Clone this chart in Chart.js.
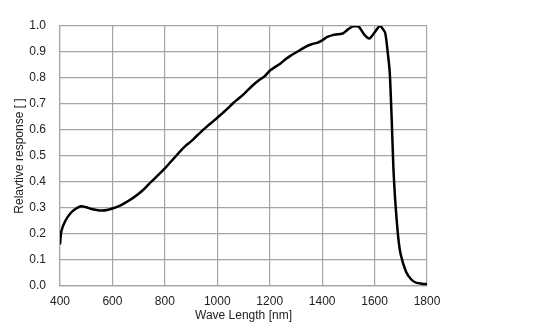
<!DOCTYPE html>
<html>
<head>
<meta charset="utf-8">
<script src="https://cdn.jsdelivr.net/npm/chart.js@4"></script>
<style>
  html, body { margin: 0; padding: 0; background: #fff; }
  #wrap { width: 554px; height: 331px; }
</style>
</head>
<body>
<div id="wrap"><canvas id="chart" width="554" height="331"></canvas></div>
<script>
// wavelength in nm and relative response
const wavelength = [
  400, 405, 420, 440, 460, 480, 500, 520, 540, 560, 580, 600, 620, 640, 660, 680,
  700, 720, 740, 760, 780, 800, 820, 840, 860, 880, 900, 920, 940, 960, 980,
  1000, 1020, 1040, 1060, 1080, 1100, 1120, 1140, 1160, 1180, 1200, 1220, 1240,
  1260, 1280, 1300, 1320, 1340, 1360, 1380, 1400, 1420, 1440, 1460, 1480, 1500,
  1520, 1540, 1560, 1580, 1600, 1620, 1640, 1650, 1658, 1665, 1672, 1678, 1690,
  1700, 1720, 1740, 1760, 1780, 1800
];
const response = [
  0.16, 0.21, 0.25, 0.28, 0.297, 0.307, 0.303, 0.296, 0.292, 0.290, 0.292, 0.298,
  0.305, 0.315, 0.327, 0.34, 0.355, 0.372, 0.393, 0.412, 0.432, 0.452, 0.475,
  0.497, 0.52, 0.54, 0.556, 0.576, 0.595, 0.613, 0.63, 0.647, 0.665, 0.683,
  0.703, 0.72, 0.737, 0.757, 0.776, 0.792, 0.806, 0.828, 0.842, 0.855, 0.872,
  0.886, 0.898, 0.91, 0.922, 0.93, 0.935, 0.945, 0.958, 0.965, 0.968, 0.972,
  0.988, 1.0, 0.997, 0.968, 0.952, 0.975, 1.0, 0.975, 0.9, 0.82, 0.65, 0.45,
  0.34, 0.19, 0.12, 0.055, 0.025, 0.012, 0.009, 0.007
];

const xTicks = [400, 600, 800, 1000, 1200, 1400, 1600, 1800];
const yTicks = [0.0, 0.1, 0.2, 0.3, 0.4, 0.5, 0.6, 0.7, 0.8, 0.9, 1.0];

const points = wavelength.map((w, i) => ({ x: w, y: response[i] }));

const gridColor = 'rgb(165,165,165)';
const textColor = '#222';
const font = { family: '"Liberation Sans", Arial, sans-serif', size: 12 };

const ctx = document.getElementById('chart').getContext('2d');

// eslint-disable-next-line no-undef
new Chart(ctx, {
  type: 'line',
  data: {
    datasets: [
      {
        data: points,
        borderColor: '#000',
        borderWidth: 2.5,
        pointRadius: 0,
        tension: 0.2,
        fill: false,
      }
    ],
  },
  options: {
    responsive: false,
    animation: false,
    layout: { padding: { top: 26, right: 127, bottom: 0, left: 0 } },
    plugins: { legend: { display: false }, tooltip: { enabled: false } },
    scales: {
      x: {
        type: 'linear',
        min: xTicks[0],
        max: xTicks[xTicks.length - 1],
        afterBuildTicks: (scale) => { scale.ticks = xTicks.map(v => ({ value: v })); },
        afterFit: (scale) => { scale.height = 45; },
        ticks: { color: textColor, font, padding: 8, maxRotation: 0, callback: (v) => String(v) },
        grid: { color: gridColor, lineWidth: 1.2, drawTicks: false },
        border: { color: gridColor, width: 1.2 },
        title: {
          display: true,
          text: 'Wave Length [nm]',
          color: textColor,
          font,
          padding: { top: 0, bottom: 8 },
        },
      },
      y: {
        min: 0,
        max: 1,
        afterBuildTicks: (scale) => { scale.ticks = yTicks.map(v => ({ value: v })); },
        afterFit: (scale) => { scale.width = 60; },
        ticks: { color: textColor, font, padding: 14, callback: (v) => v.toFixed(1) },
        grid: { color: gridColor, lineWidth: 1.2, drawTicks: false },
        border: { color: gridColor, width: 1.2 },
        title: {
          display: true,
          text: 'Relavtive response [ ]',
          color: textColor,
          font,
          padding: { top: 12, bottom: 0 },
        },
      },
    },
  },
});
</script>
</body>
</html>
